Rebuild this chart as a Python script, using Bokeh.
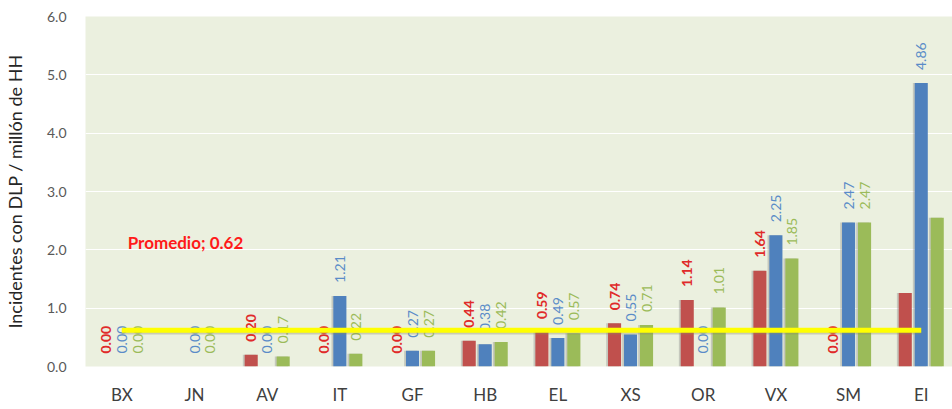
import numpy as np
from bokeh.plotting import figure
from bokeh.models import ColumnDataSource, Range1d, FixedTicker, Label, NumeralTickFormatter
from bokeh.core.properties import value
from bokeh.embed import file_html
from bokeh.resources import INLINE

categories = ["BX", "JN", "AV", "IT", "GF", "HB", "EL", "XS", "OR", "VX", "SM", "EI"]
red_vals = [0.00, np.nan, 0.20, 0.00, 0.00, 0.44, 0.59, 0.74, 1.14, 1.64, 0.00, 1.26]
blue_vals = [0.00, 0.00, 0.00, 1.21, 0.27, 0.38, 0.49, 0.55, 0.00, 2.25, 2.47, 4.86]
green_vals = [0.00, 0.00, 0.17, 0.22, 0.27, 0.42, 0.57, 0.71, 1.01, 1.85, 2.47, 2.55]
red_show = [True, False, True, True, True, True, True, True, True, True, True, False]
blue_show = [True] * 12
green_show = [True] * 11 + [False]
average = 0.62
avg_label = "Promedio; 0.62"
y_ticks = [0, 1, 2, 3, 4, 5, 6]

FONT = "Lato"
idx = np.arange(len(categories))

p = figure(width=952, height=409, output_backend="svg", toolbar_location=None,
           x_range=Range1d(-0.5, 11.43), y_range=Range1d(0, 6),
           min_border_left=85, min_border_right=0, min_border_top=16, min_border_bottom=43)
p.background_fill_color = "#EBF0DF"
p.border_fill_color = "white"
p.outline_line_color = None
p.xgrid.grid_line_color = None
p.ygrid.grid_line_color = "white"
p.ygrid.grid_line_width = 1.2
p.yaxis.ticker = FixedTicker(ticks=y_ticks)
p.yaxis.formatter = NumeralTickFormatter(format="0.0")
p.xaxis.ticker = FixedTicker(ticks=list(idx))
p.xaxis.major_label_overrides = {int(i): c for i, c in zip(idx, categories)}
for ax in (p.xaxis[0], p.yaxis[0]):
    ax.axis_line_color = None
    ax.major_tick_line_color = None
    ax.minor_tick_line_color = None
    ax.major_label_text_font = FONT
p.yaxis.major_label_text_font_size = "14px"
p.yaxis.major_label_text_color = "#595959"
p.yaxis.major_label_standoff = 13
p.xaxis.major_label_text_font_size = "17px"
p.xaxis.major_label_text_color = "#404040"
p.xaxis.major_label_standoff = 11
p.yaxis.axis_label = "Incidentes con DLP / millón de HH"
p.yaxis.axis_label_text_font = FONT
p.yaxis.axis_label_text_font_style = "normal"
p.yaxis.axis_label_text_font_size = "18px"
p.yaxis.axis_label_text_color = "#262626"
p.yaxis.axis_label_standoff = 18

series = [
    (red_vals, red_show, -0.22, "#C0504D", "#E02A2A", "bold"),
    (blue_vals, blue_show, 0.0, "#4F81BD", "#5A8CC8", "normal"),
    (green_vals, green_show, 0.22, "#9BBB59", "#9BBB59", "normal"),
]
bw = 0.18
for vals, show, off, col, lcol, style in series:
    v = np.array(vals, dtype=float)
    xs = idx + off
    # soft shadow
    p.vbar(x=xs - 0.025, top=v, width=bw, bottom=0, fill_color="#7F7F7F", fill_alpha=0.35, line_color=None)
    p.vbar(x=xs, top=v, width=bw, bottom=0, fill_color=col, line_color=None)
    m = np.array(show) & ~np.isnan(v)
    src = ColumnDataSource(dict(x=xs[m], y=v[m], t=["%.2f" % a for a in v[m]]))
    p.text(x="x", y="y", text="t", source=src, angle=np.pi / 2, text_align="left",
           text_baseline="middle", y_offset=-13, text_font=value(FONT),
           text_font_size="14px", text_color=lcol, text_font_style=style)

# average line with soft shadow
p.segment(x0=[idx[0]], y0=[average - 0.03], x1=[idx[-1]], y1=[average - 0.03],
          line_color="#8A8A60", line_alpha=0.35, line_width=5)
p.segment(x0=[idx[0]], y0=[average], x1=[idx[-1]], y1=[average],
          line_color="#FFFF00", line_width=5)
p.add_layout(Label(x=0.08, y=2.12, text=avg_label, text_font=FONT, text_font_size="17px",
                   text_font_style="bold", text_color="#FF1A1A", text_baseline="middle"))

open("out.html", "w").write(file_html(p, INLINE))
